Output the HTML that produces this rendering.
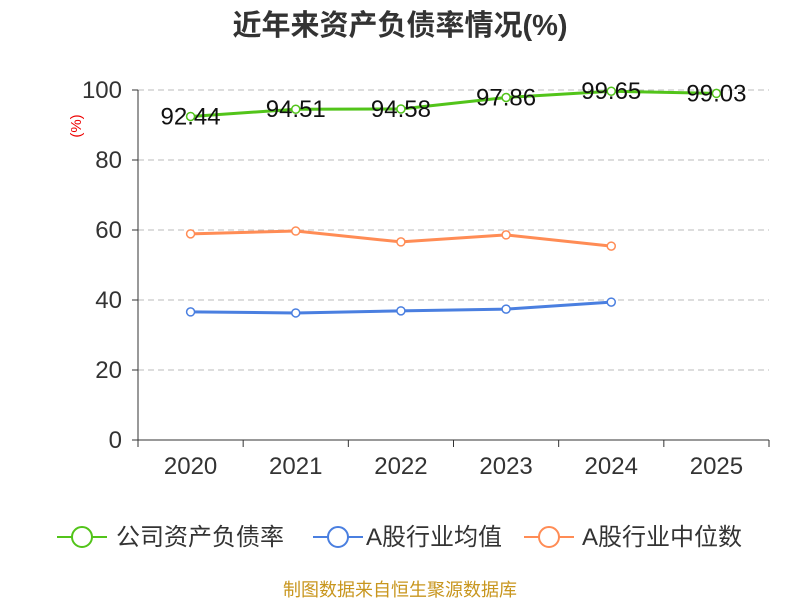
<!DOCTYPE html>
<html><head><meta charset="utf-8">
<style>
body{margin:0;background:#fff;}
svg{display:block;font-family:"Liberation Sans","Noto Sans CJK SC",sans-serif;}
</style></head>
<body>
<svg id="chart" width="800" height="600" viewBox="0 0 800 600">
<text x="400" y="35" text-anchor="middle" font-size="29" font-weight="bold" fill="#333">近年来资产负债率情况(%)</text>
<text x="0" y="0" transform="translate(81,126) rotate(-90)" text-anchor="middle" font-size="15" fill="#e00">(%)</text>
<g id="grid"></g><g id="axes"></g><g id="series"></g>
<g>
<g>
<line x1="57" y1="537" x2="107" y2="537" stroke="#52c41a" stroke-width="2"/><circle cx="82" cy="537" r="10" fill="#fff" stroke="#52c41a" stroke-width="2"/>
<text x="116" y="545" font-size="24" fill="#333">公司资产负债率</text></g>
<g>
<line x1="313" y1="537" x2="363" y2="537" stroke="#4a7fe0" stroke-width="2"/><circle cx="338" cy="537" r="10" fill="#fff" stroke="#4a7fe0" stroke-width="2"/>
<text x="366" y="545" font-size="24" fill="#333">A股行业均值</text></g>
<g>
<line x1="524" y1="537" x2="574" y2="537" stroke="#ff8c55" stroke-width="2"/><circle cx="549" cy="537" r="10" fill="#fff" stroke="#ff8c55" stroke-width="2"/>
<text x="582" y="545" font-size="24" fill="#333">A股行业中位数</text></g>
</g>
<text x="400" y="596" text-anchor="middle" font-size="18" fill="#c8961e">制图数据来自恒生聚源数据库</text>
</svg>
<script>
const categories=["2020","2021","2022","2023","2024","2025"];
const companyValues=[92.44,94.51,94.58,97.86,99.65,99.03];
const meanValues=[36.6,36.3,36.9,37.4,39.4];
const medianValues=[58.9,59.7,56.6,58.6,55.4];
const yTicks=[0,20,40,60,80,100];
const NS="http://www.w3.org/2000/svg";
const x0=138,x1=769,y0=440,y1=90;
const band=(x1-x0)/categories.length;
const xs=i=>x0+band*(i+0.5);
const ys=v=>y0-(v/100)*(y0-y1);
function mk(tag,attrs,parent){const e=document.createElementNS(NS,tag);for(const k in attrs)e.setAttribute(k,attrs[k]);parent.appendChild(e);return e;}
const grid=document.getElementById('grid'),axes=document.getElementById('axes'),ser=document.getElementById('series');
yTicks.forEach(t=>{
 if(t>0){const g=mk('line',{x1:x0,x2:x1,y1:ys(t),y2:ys(t),stroke:'#bbb','stroke-dasharray':'6,4'},grid);
 
 }
 const tk=mk('line',{x1:x0-6,x2:x0,y1:ys(t),y2:ys(t),stroke:'#333'},axes);
 
 
 const tx=mk('text',{x:x0-16,y:ys(t)+8,'text-anchor':'end','font-size':24,fill:'#333'},axes);tx.textContent=t;
 
 
});
const ya=mk('line',{x1:x0,x2:x0,y1:y1,y2:y0,stroke:'#333'},axes);


const xa=mk('line',{x1:x0,x2:x1,y1:y0,y2:y0,stroke:'#333'},axes);


for(let i=0;i<=categories.length;i++){const t=mk('line',{x1:x0+band*i,x2:x0+band*i,y1:y0,y2:y0+7,stroke:'#333'},axes);
 
 }
categories.forEach((c,i)=>{const t=mk('text',{x:xs(i),y:474,'text-anchor':'middle','font-size':24,fill:'#333'},axes);t.textContent=c;
 
 });
function series(vals,color,name,labels){
 const g=mk('g',{},ser);
 
 
 const p=mk('polyline',{points:vals.map((v,i)=>xs(i)+','+ys(v)).join(' '),fill:'none',stroke:color,'stroke-width':3},g);
 
 
 vals.forEach((v,i)=>{const c=mk('circle',{cx:xs(i),cy:ys(v),r:4,fill:'#fff',stroke:color,'stroke-width':1.5},g);
  
  
  if(labels){const t=mk('text',{x:xs(i),y:ys(v)+8,'text-anchor':'middle','font-size':24,fill:'#111'},g);t.textContent=v.toFixed(2);
   
   }
 });
}
series(meanValues,'#4a7fe0','industry-mean',false);
series(medianValues,'#ff8c55','industry-median',false);
series(companyValues,'#52c41a','company',true);
</script>
</body></html>
